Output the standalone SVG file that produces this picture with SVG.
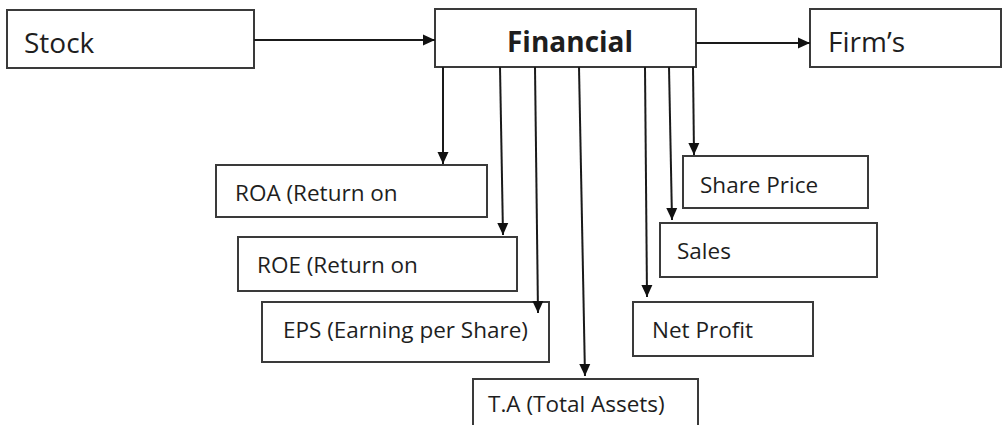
<svg xmlns="http://www.w3.org/2000/svg" width="1002" height="425" viewBox="0 0 1002 425">
<style>
.box{fill:#fff;stroke:#3a3a3a;stroke-width:2}
.t{font-family:"Open Sans","Liberation Sans",sans-serif;font-size:22.5px;fill:#1e1e1e}
.big{font-size:28px}
.bold{font-weight:bold}
.c{stroke:#1a1a1a;stroke-width:2;fill:none;marker-end:url(#ah)}
</style>
<defs>
<marker id="ah" markerUnits="userSpaceOnUse" markerWidth="12" markerHeight="12" refX="12" refY="6" orient="auto">
<path d="M0,0.5 L12,6 L0,11.5 z" fill="#111"/>
</marker>
</defs>
<rect width="1002" height="425" fill="#fff"/>
<g id="stock"><rect class="box" x="7" y="10" width="247" height="58"/><text class="t big" x="24" y="53">Stock</text></g>
<g id="financial"><rect class="box" x="435" y="9" width="261" height="58"/><text class="t big bold" x="507" y="52">Financial</text></g>
<g id="firms"><rect class="box" x="810" y="9" width="191" height="58"/><text class="t big" x="828" y="52">Firm’s</text></g>
<g id="roa"><rect class="box" x="216" y="165" width="271" height="52"/><text class="t" x="235" y="201">ROA (Return on</text></g>
<g id="roe"><rect class="box" x="238" y="237" width="279" height="54"/><text class="t" x="257" y="273">ROE (Return on</text></g>
<g id="eps"><rect class="box" x="262" y="302" width="287" height="60"/><text class="t" x="283" y="338">EPS (Earning per Share)</text></g>
<g id="ta"><rect class="box" x="473" y="379" width="225" height="60"/><text class="t" x="488" y="412">T.A (Total Assets)</text></g>
<g id="shareprice"><rect class="box" x="683" y="156" width="185" height="52"/><text class="t" x="700" y="193">Share Price</text></g>
<g id="sales"><rect class="box" x="660" y="223" width="217" height="54"/><text class="t" x="677" y="259">Sales</text></g>
<g id="netprofit"><rect class="box" x="633" y="302" width="180" height="54"/><text class="t" x="652" y="338">Net Profit</text></g>
<g id="connectors">
<line class="c" x1="254" y1="40" x2="435" y2="40"/>
<line class="c" x1="696" y1="43" x2="810" y2="43"/>
<line class="c" x1="443" y1="67" x2="443" y2="164"/>
<line class="c" x1="500" y1="67" x2="503" y2="235"/>
<line class="c" x1="535" y1="67" x2="538" y2="313"/>
<line class="c" x1="579" y1="67" x2="585" y2="376"/>
<line class="c" x1="645" y1="67" x2="647" y2="297"/>
<line class="c" x1="669" y1="67" x2="672" y2="220"/>
<line class="c" x1="693" y1="67" x2="694" y2="155"/>
</g>
</svg>
